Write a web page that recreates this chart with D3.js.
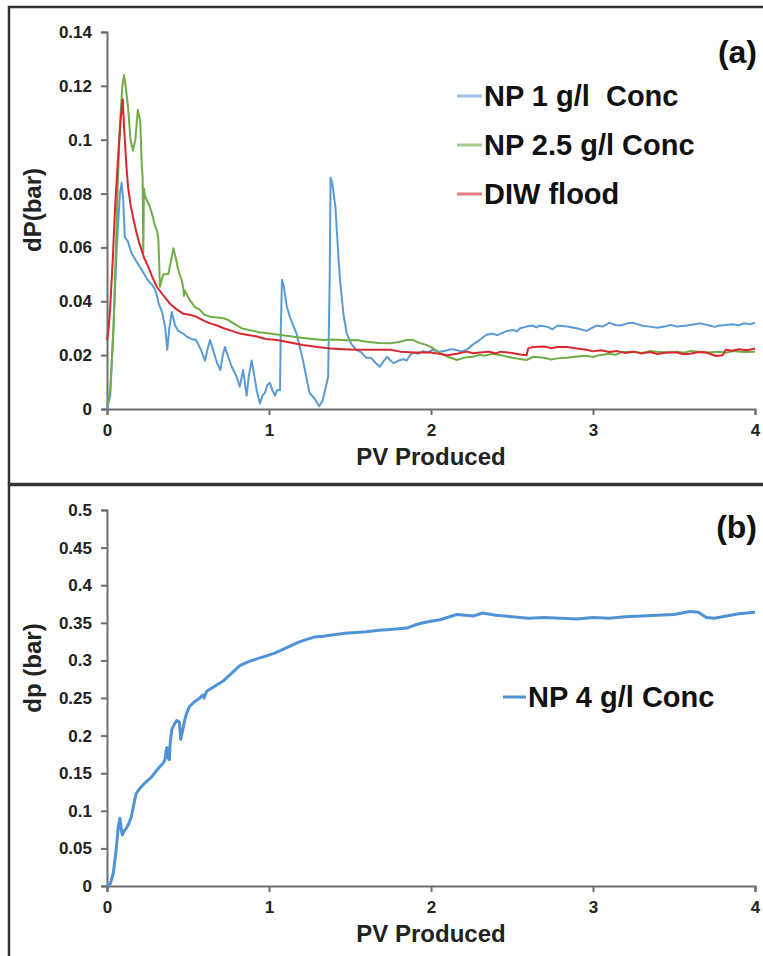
<!DOCTYPE html>
<html>
<head>
<meta charset="utf-8">
<script src="https://cdn.jsdelivr.net/npm/d3@7"></script>
<style>
  body { margin: 0; background: #fff; }
  text { font-family: "Liberation Sans", Arial, sans-serif; font-weight: bold; white-space: pre; }
</style>
</head>
<body>
<div id="chart"></div>
<script>
// x ticks (PV produced), shared by both panels
const pvTicks = [0, 1, 2, 3, 4];
const dpTicksA = [0, 0.02, 0.04, 0.06, 0.08, 0.1, 0.12, 0.14];
const dpTicksB = [0, 0.05, 0.1, 0.15, 0.2, 0.25, 0.3, 0.35, 0.4, 0.45, 0.5];

const seriesNamesA = ["NP 1 g/l  Conc", "NP 2.5 g/l Conc", "DIW flood"];
const seriesNameB = "NP 4 g/l Conc";

// [PV produced, dP (bar)]
const np1 = [[0,0],[0.02,0.005],[0.04,0.03],[0.06,0.06],[0.08,0.08],[0.09,0.084],[0.1,0.078],[0.11,0.064],[0.13,0.062],[0.15,0.058],
  [0.18,0.055],[0.2,0.053],[0.23,0.05],[0.25,0.048],[0.28,0.046],[0.3,0.044],[0.32,0.039],[0.34,0.036],[0.36,0.03],[0.372,0.022],
  [0.385,0.03],[0.4,0.036],[0.42,0.031],[0.44,0.029],[0.47,0.028],[0.49,0.027],[0.52,0.026],[0.55,0.0256],[0.58,0.022],[0.605,0.018],
  [0.62,0.022],[0.636,0.0256],[0.66,0.021],[0.68,0.017],[0.7,0.0145],[0.715,0.02],[0.728,0.023],[0.75,0.019],[0.77,0.0157],[0.8,0.012],
  [0.82,0.0083],[0.84,0.0145],[0.862,0.005],[0.875,0.012],[0.893,0.018],[0.91,0.012],[0.924,0.007],[0.944,0.002],[0.96,0.005],[0.975,0.006],
  [0.99,0.009],[1.006,0.0097],[1.02,0.007],[1.037,0.005],[1.05,0.007],[1.068,0.007],[1.073,0.03],[1.08,0.048],[1.09,0.046],[1.11,0.038],
  [1.13,0.034],[1.15,0.031],[1.17,0.028],[1.19,0.023],[1.21,0.018],[1.23,0.012],[1.25,0.006],[1.28,0.004],[1.31,0.001],[1.33,0.003],
  [1.35,0.008],[1.365,0.012],[1.375,0.05],[1.38,0.086],[1.39,0.084],[1.41,0.075],[1.43,0.055],[1.44,0.047],[1.46,0.035],[1.48,0.028],
  [1.51,0.024],[1.54,0.022],[1.57,0.021],[1.6,0.019],[1.63,0.019],[1.66,0.017],[1.685,0.0157],[1.71,0.018],[1.73,0.0194],[1.75,0.018],
  [1.77,0.017],[1.8,0.018],[1.83,0.0185],[1.85,0.018],[1.87,0.02],[1.89,0.021],[1.92,0.0205],[1.95,0.0215],[1.98,0.021],[2.01,0.022],
  [2.05,0.0212],[2.08,0.0215],[2.12,0.0222],[2.15,0.022],[2.19,0.0214],[2.22,0.022],[2.26,0.024],[2.3,0.0256],[2.34,0.0275],[2.38,0.028],
  [2.41,0.0274],[2.43,0.028],[2.47,0.029],[2.51,0.0293],[2.53,0.0288],[2.55,0.03],[2.59,0.0306],[2.63,0.031],[2.65,0.0303],[2.67,0.031],
  [2.72,0.0305],[2.75,0.0296],[2.78,0.031],[2.84,0.0306],[2.9,0.03],[2.96,0.029],[3.02,0.031],[3.06,0.0306],[3.1,0.032],[3.14,0.0312],
  [3.17,0.031],[3.21,0.0318],[3.25,0.032],[3.3,0.031],[3.36,0.0305],[3.4,0.0302],[3.44,0.0306],[3.48,0.0312],[3.52,0.0306],[3.58,0.031],
  [3.62,0.0314],[3.66,0.0318],[3.72,0.031],[3.75,0.0305],[3.78,0.031],[3.82,0.0312],[3.86,0.0315],[3.9,0.0311],[3.93,0.0318],[3.97,0.0315],
  [4,0.032]];

const np25 = [[0,0.001],[0.02,0.007],[0.04,0.03],[0.05,0.05],[0.065,0.08],[0.08,0.106],[0.095,0.12],[0.105,0.124],[0.115,0.12],[0.13,0.112],
  [0.145,0.1],[0.16,0.096],[0.175,0.1],[0.19,0.111],[0.205,0.107],[0.215,0.09],[0.22,0.086],[0.224,0.058],[0.228,0.082],[0.235,0.079],
  [0.265,0.075],[0.28,0.072],[0.296,0.068],[0.31,0.066],[0.317,0.063],[0.327,0.0454],[0.338,0.048],[0.348,0.05],[0.378,0.05],[0.395,0.055],
  [0.41,0.0597],[0.425,0.056],[0.44,0.0516],[0.46,0.048],[0.47,0.0454],[0.475,0.042],[0.48,0.044],[0.51,0.0405],[0.54,0.038],[0.574,0.0368],
  [0.6,0.035],[0.636,0.0343],[0.68,0.034],[0.72,0.0337],[0.75,0.033],[0.78,0.0318],[0.83,0.03],[0.88,0.0293],[0.94,0.0285],[1.006,0.028],
  [1.07,0.0275],[1.13,0.027],[1.2,0.0265],[1.27,0.026],[1.335,0.0256],[1.4,0.0258],[1.47,0.0255],[1.54,0.0256],[1.6,0.025],[1.68,0.0245],
  [1.75,0.0244],[1.81,0.025],[1.85,0.0256],[1.89,0.0256],[1.93,0.0245],[1.97,0.0238],[2,0.023],[2.06,0.0207],[2.1,0.0195],[2.16,0.0182],
  [2.2,0.019],[2.26,0.0194],[2.3,0.0201],[2.33,0.0198],[2.38,0.0205],[2.43,0.02],[2.5,0.019],[2.55,0.0186],[2.59,0.0182],[2.63,0.0194],
  [2.7,0.019],[2.74,0.0184],[2.78,0.0188],[2.84,0.019],[2.9,0.0195],[2.96,0.0198],[3.0,0.0193],[3.04,0.02],[3.1,0.0205],[3.14,0.0201],
  [3.18,0.0212],[3.25,0.0213],[3.3,0.0208],[3.35,0.0215],[3.45,0.021],[3.52,0.0213],[3.56,0.0209],[3.6,0.0215],[3.7,0.021],[3.78,0.0213],
  [3.82,0.0209],[3.86,0.0215],[3.93,0.0212],[4,0.0213]];

const diw = [[0,0.0256],[0.01,0.03],[0.02,0.038],[0.035,0.055],[0.05,0.075],[0.07,0.095],[0.085,0.108],[0.097,0.115],[0.105,0.105],[0.11,0.1],
  [0.12,0.09],[0.13,0.0825],[0.145,0.076],[0.16,0.0714],[0.18,0.066],[0.2,0.0615],[0.23,0.056],[0.255,0.0528],[0.28,0.049],[0.307,0.0454],
  [0.35,0.042],[0.39,0.039],[0.43,0.037],[0.47,0.0354],[0.51,0.035],[0.55,0.0343],[0.59,0.033],[0.636,0.0318],[0.68,0.031],[0.72,0.03],
  [0.77,0.029],[0.82,0.028],[0.87,0.0275],[0.92,0.027],[0.98,0.026],[1.05,0.0256],[1.13,0.0247],[1.21,0.0238],[1.3,0.023],[1.38,0.0225],
  [1.46,0.0222],[1.54,0.022],[1.65,0.022],[1.75,0.022],[1.81,0.0213],[1.9,0.021],[2,0.021],[2.05,0.0205],[2.1,0.02],[2.16,0.0205],
  [2.22,0.0213],[2.26,0.0207],[2.3,0.021],[2.36,0.0213],[2.4,0.0206],[2.43,0.0213],[2.5,0.0208],[2.55,0.0202],[2.59,0.02],[2.6,0.0225],
  [2.63,0.023],[2.7,0.0232],[2.74,0.0226],[2.78,0.023],[2.84,0.023],[2.9,0.0225],[2.96,0.022],[3.0,0.0214],[3.05,0.0218],[3.1,0.0212],
  [3.15,0.0215],[3.2,0.0208],[3.25,0.0213],[3.3,0.0206],[3.35,0.0212],[3.4,0.0204],[3.45,0.021],[3.52,0.021],[3.56,0.0203],[3.6,0.0205],
  [3.65,0.0212],[3.7,0.021],[3.76,0.0197],[3.8,0.02],[3.82,0.022],[3.86,0.0216],[3.9,0.0222],[3.95,0.0218],[4,0.0225]];

const np4 = [[0,0],[0.02,0.003],[0.039,0.017],[0.055,0.045],[0.07,0.079],[0.08,0.09],[0.088,0.075],[0.095,0.068],[0.105,0.073],[0.12,0.077],
  [0.135,0.083],[0.15,0.092],[0.165,0.108],[0.18,0.123],[0.2,0.129],[0.22,0.134],[0.25,0.14],[0.276,0.145],[0.3,0.152],[0.327,0.159],
  [0.345,0.163],[0.358,0.168],[0.365,0.18],[0.37,0.184],[0.378,0.17],[0.385,0.168],[0.39,0.19],[0.4,0.208],[0.415,0.215],[0.43,0.22],
  [0.447,0.218],[0.455,0.195],[0.465,0.205],[0.48,0.221],[0.495,0.232],[0.51,0.239],[0.54,0.245],[0.574,0.25],[0.59,0.254],[0.6,0.25],
  [0.615,0.259],[0.66,0.265],[0.72,0.273],[0.77,0.283],[0.82,0.293],[0.87,0.298],[0.924,0.302],[0.97,0.305],[1.027,0.309],[1.08,0.314],
  [1.13,0.319],[1.18,0.324],[1.233,0.328],[1.28,0.331],[1.335,0.332],[1.4,0.334],[1.47,0.336],[1.54,0.337],[1.6,0.338],[1.68,0.34],
  [1.747,0.341],[1.8,0.342],[1.85,0.343],[1.9,0.347],[1.95,0.35],[2,0.352],[2.055,0.354],[2.1,0.357],[2.16,0.361],[2.21,0.36],
  [2.26,0.359],[2.32,0.363],[2.4,0.36],[2.5,0.358],[2.6,0.356],[2.7,0.357],[2.8,0.356],[2.9,0.355],[3,0.357],[3.1,0.356],
  [3.2,0.358],[3.3,0.359],[3.4,0.36],[3.5,0.361],[3.6,0.365],[3.65,0.364],[3.7,0.357],[3.75,0.356],[3.8,0.358],[3.9,0.362],[4,0.364]];

const colorsA = ["#5b9bd5", "#70ad47", "#d9272e"];
const colorB = "#4f93d6";

const W = 763, H = 956;
const svg = d3.select("#chart").append("svg").attr("width", W).attr("height", H);

// panel frames
svg.append("rect").attr("x", 9).attr("y", 7).attr("width", 770).attr("height", 477)
  .attr("fill", "none").attr("stroke", "#333").attr("stroke-width", 2.5);
svg.append("rect").attr("x", 9).attr("y", 485).attr("width", 770).attr("height", 490)
  .attr("fill", "none").attr("stroke", "#333").attr("stroke-width", 2.5);

const x = d3.scaleLinear().domain([0, 4]).range([107, 755]);

function drawAxes(y, ticks, yTitle, yTitleY, bottom) {
  const gx = svg.append("g").attr("transform", `translate(0,${bottom})`)
    .call(d3.axisBottom(x).tickValues(pvTicks).tickSize(6).tickPadding(9).tickFormat(d => String(d)));
  const gy = svg.append("g").attr("transform", `translate(${x(0)},0)`)
    .call(d3.axisLeft(y).tickValues(ticks).tickSize(6).tickPadding(9).tickSizeOuter(6).tickFormat(d => String(d)));
  [gx, gy].forEach(g => {
    g.selectAll("path, line").attr("stroke", "#6e6e6e").attr("stroke-width", 2);
    g.selectAll("text").attr("fill", "#222").style("font-size", "17px");
  });

  svg.append("text")
    .attr("x", (x(0) + x(4)) / 2)
    .attr("y", bottom + 56)
    .attr("text-anchor", "middle")
    .attr("fill", "#222")
    .style("font-size", "24px")
    .text("PV Produced");

  svg.append("text")
    .attr("transform", `translate(41,${yTitleY}) rotate(-90)`)
    .attr("text-anchor", "middle")
    .attr("fill", "#222")
    .style("font-size", "24px")
    .text(yTitle);
}

// Panel (a)
const yA = d3.scaleLinear().domain([0, 0.14]).range([409, 32]);
drawAxes(yA, dpTicksA, "dP(bar)", 210, 409);

const lineA = d3.line().x(d => x(d[0])).y(d => yA(d[1]));
[np1, np25, diw].forEach((s, i) => {
  svg.append("path")
    .datum(s)
    .attr("fill", "none")
    .attr("stroke", colorsA[i])
    .attr("stroke-width", 2)
    .attr("stroke-linejoin", "round")
    .attr("d", lineA);
});

// legend (a)
seriesNamesA.forEach((name, i) => {
  const ly = 96 + i * 49;
  svg.append("line").attr("x1", 457).attr("x2", 482).attr("y1", ly).attr("y2", ly)
    .attr("stroke", colorsA[i]).attr("stroke-width", 3).attr("opacity", 0.6);
  svg.append("text").attr("x", 484).attr("y", ly).attr("dy", "0.35em")
    .attr("fill", "#111").style("font-size", "29px").text(name);
});

svg.append("text").attr("x", 757).attr("y", 63).attr("text-anchor", "end")
  .attr("fill", "#111").style("font-size", "32px").text("(a)");

// Panel (b)
const yB = d3.scaleLinear().domain([0, 0.5]).range([886, 510]);
drawAxes(yB, dpTicksB, "dp (bar)", 668, 886);

const lineB = d3.line().x(d => x(d[0])).y(d => yB(d[1]));
svg.append("path")
  .datum(np4)
  .attr("fill", "none")
  .attr("stroke", colorB)
  .attr("stroke-width", 3)
  .attr("stroke-linejoin", "round")
  .attr("d", lineB);

const legBY = 697;
svg.append("line").attr("x1", 503).attr("x2", 526).attr("y1", legBY).attr("y2", legBY)
  .attr("stroke", colorB).attr("stroke-width", 3);
svg.append("text").attr("x", 528).attr("y", legBY).attr("dy", "0.35em")
  .attr("fill", "#111").style("font-size", "29px").text(seriesNameB);

svg.append("text").attr("x", 757).attr("y", 538).attr("text-anchor", "end")
  .attr("fill", "#111").style("font-size", "32px").text("(b)");
</script>
</body>
</html>
